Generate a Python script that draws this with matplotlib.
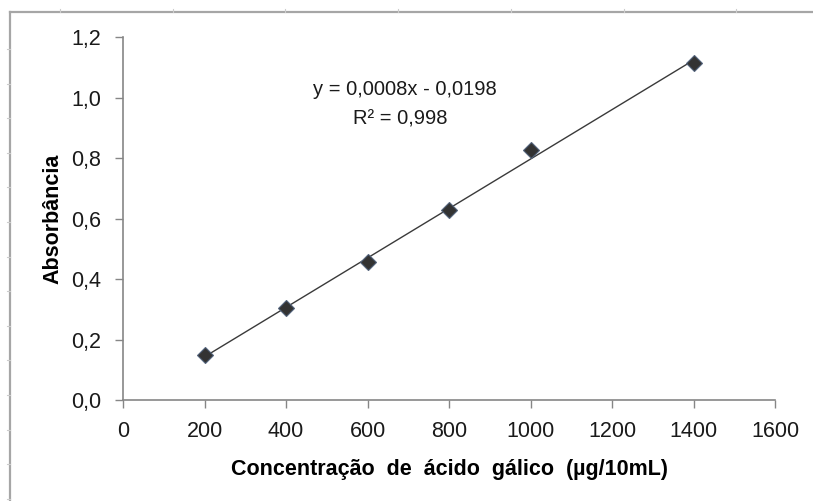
import numpy as np
import matplotlib
matplotlib.use("Agg")
import matplotlib.pyplot as plt
from matplotlib.lines import Line2D

# ---- data ----
concentration = [200, 400, 600, 800, 1000, 1400]
absorbance = [0.148, 0.304, 0.456, 0.628, 0.826, 1.114]
x_ticks = [0, 200, 400, 600, 800, 1000, 1200, 1400, 1600]
y_ticks = [0.0, 0.2, 0.4, 0.6, 0.8, 1.0, 1.2]
y_tick_labels = ["0,0", "0,2", "0,4", "0,6", "0,8", "1,0", "1,2"]
equation_text = "y = 0,0008x - 0,0198"
r2_text = "R\u00b2 = 0,998"
x_label = "Concentra\u00e7\u00e3o  de  \u00e1cido  g\u00e1lico  (\u00b5g/10mL)"
y_label = "Absorb\u00e2ncia"

plt.rcParams['font.family'] = ['Liberation Sans', 'DejaVu Sans']

W, H = 813, 501
fig = plt.figure(figsize=(W / 100, H / 100), dpi=100)
fig.patch.set_facecolor('white')

def px(x, y):
    return x / W, 1 - y / H

frame_col = '#a6a6a6'
fig.add_artist(Line2D([px(10, 0)[0], px(10, 0)[0]], [px(0, 12)[1], px(0, 501)[1]],
                      transform=fig.transFigure, color=frame_col, lw=1.6))
fig.add_artist(Line2D([px(10, 0)[0], px(813, 0)[0]], [px(0, 12)[1], px(0, 12)[1]],
                      transform=fig.transFigure, color=frame_col, lw=1.6))
for yy in np.arange(49, 501, 34.6):
    fig.add_artist(Line2D([px(7, 0)[0], px(10, 0)[0]], [px(0, yy)[1], px(0, yy)[1]],
                          transform=fig.transFigure, color='#cccccc', lw=0.8))
for xx in np.arange(60, 813, 112.7):
    fig.add_artist(Line2D([px(xx, 0)[0], px(xx, 0)[0]], [px(0, 9)[1], px(0, 12)[1]],
                          transform=fig.transFigure, color='#cccccc', lw=0.8))

ax = fig.add_axes([123 / W, 1 - 400 / H, (775 - 123) / W, (400 - 37.5) / H])
ax.set_xlim(0, 1600)
ax.set_ylim(0, 1.2)

coef = np.polyfit(concentration, absorbance, 1)
xfit = np.array([min(concentration), max(concentration)])
ax.plot(xfit, np.polyval(coef, xfit), color='#3a3a3a', lw=1.0, zorder=2)

ax.plot(concentration, absorbance, linestyle='none', marker='D', markersize=8.5,
        markerfacecolor='#333333', markeredgecolor='#52627a', markeredgewidth=0.8, zorder=3)

ax.set_xticks(x_ticks)
ax.set_xticklabels([str(v) for v in x_ticks])
ax.set_yticks(y_ticks)
ax.set_yticklabels(y_tick_labels)

for s in ['top', 'right']:
    ax.spines[s].set_visible(False)
for s in ['left', 'bottom']:
    ax.spines[s].set_color('#868686')
    ax.spines[s].set_linewidth(1.2)

ax.tick_params(axis='both', direction='out', length=5.5, width=1.0, color='#868686',
               labelsize=15.5, labelcolor='#1a1a1a')
ax.tick_params(axis='x', pad=9.5)
ax.tick_params(axis='y', pad=10)

ax.set_xlabel(x_label, fontsize=15.5, fontweight='bold', color='black', labelpad=12)
ax.set_ylabel(y_label, fontsize=15.5, fontweight='bold', color='black', labelpad=6)

ax.text(0.4325, 0.856, equation_text, transform=ax.transAxes, ha='center', va='center',
        fontsize=14.5, color='#1a1a1a')
ax.text(0.425, 0.774, r2_text, transform=ax.transAxes, ha='center', va='center',
        fontsize=14.5, color='#1a1a1a')

fig.savefig('out.png', dpi=100, facecolor='white')
